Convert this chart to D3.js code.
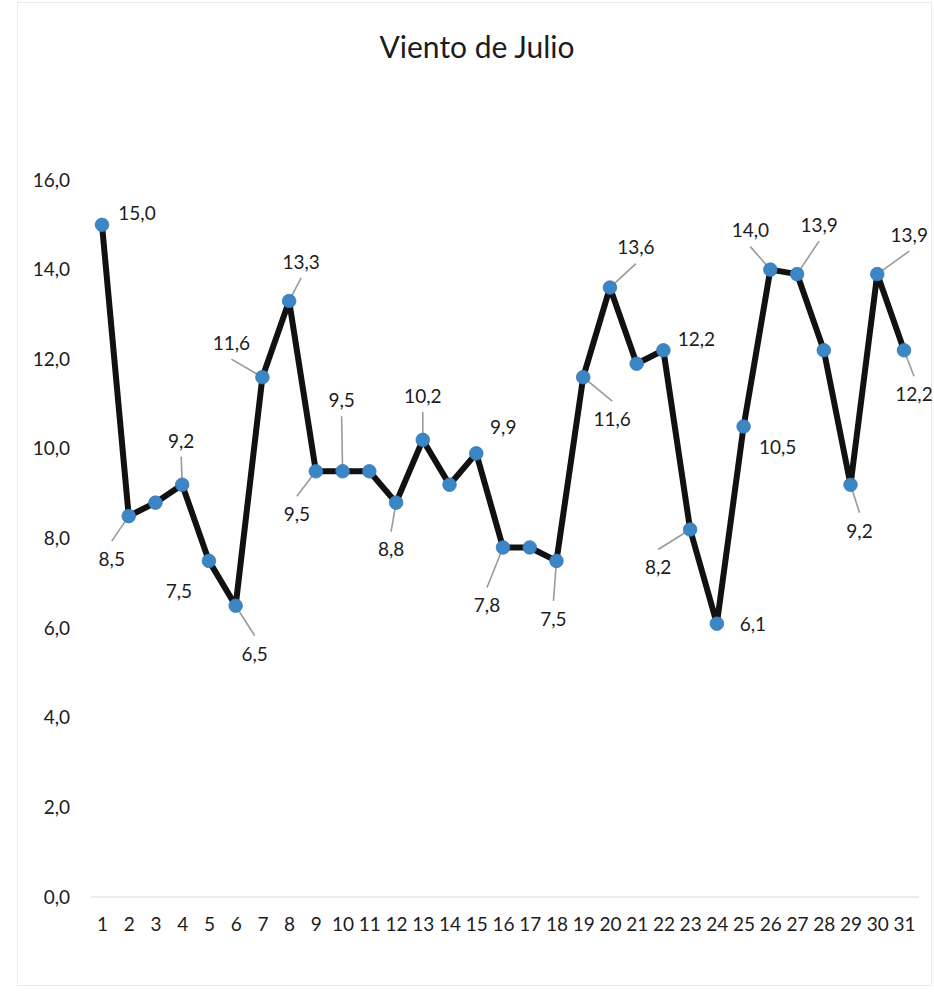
<!DOCTYPE html>
<html lang="es">
<head>
<meta charset="utf-8">
<title>Viento de Julio</title>
<script src="https://cdn.jsdelivr.net/npm/d3@7/dist/d3.min.js"></script>
<style>
  html, body { margin: 0; padding: 0; background: #ffffff; }
  svg { display: block; font-family: Lato, "Open Sans", "DejaVu Sans", sans-serif; }
</style>
</head>
<body>
<svg id="chart" width="934" height="996"></svg>
<script>
// Days of July and the wind value recorded on each day
const days = d3.range(1, 32);
const wind = [
  15.0, 8.5, 8.8, 9.2, 7.5, 6.5, 11.6, 13.3, 9.5, 9.5,
  9.5, 8.8, 10.2, 9.2, 9.9, 7.8, 7.8, 7.5, 11.6, 13.6,
  11.9, 12.2, 8.2, 6.1, 10.5, 14.0, 13.9, 12.2, 9.2, 13.9,
  12.2
];
const yTicks = [0, 2, 4, 6, 8, 10, 12, 14, 16];
const title = "Viento de Julio";

// Days whose value is printed on the chart
const labelledDays = [1, 2, 4, 5, 6, 7, 8, 9, 10, 12, 13, 15, 16, 18, 19, 20, 22, 23, 24, 25, 26, 27, 29, 30, 31];

// Hand-placed data label layout: [day, dx, dy, has leader line]
const labelLayout = [
  [1, 35, -12, false], [2, -17, 43, true], [4, -1, -44, true], [5, -30, 30, false],
  [6, 19, 48, true], [7, -31, -34, true], [8, 12, -39, true], [9, -19, 43, true],
  [10, -1, -71, true], [12, -5, 47, true], [13, 0, -44, true], [15, 27, -26, false],
  [16, -16, 58, true], [18, -3, 58, true], [19, 29, 42, true], [20, 26, -40, true],
  [22, 33, -11, false], [23, -32, 38, true], [24, 36, 1, false], [25, 34, 21, false],
  [26, -20, -39, true], [27, 22, -49, true], [29, 9, 46, true], [30, 32, -39, true],
  [31, 10, 44, true]
];

const fmt = v => d3.format(".1f")(v).replace(".", ",");
const textColor = "#1c1c1c";
const labelSize = 19;

const svg = d3.select("#chart");

// faint chart-area frame
svg.append("rect")
  .attr("x", 17.5).attr("y", 2.5)
  .attr("width", 914).attr("height", 983)
  .attr("fill", "none").attr("stroke", "#ebebeb").attr("stroke-width", 1);

const x = d3.scalePoint().domain(days).range([102, 904]);
const y = d3.scaleLinear().domain([0, 16]).range([897, 180]);

// title
svg.append("text")
  .attr("x", 477).attr("y", 58)
  .attr("text-anchor", "middle")
  .attr("font-size", 30)
  .attr("fill", textColor)
  .text(title);

// horizontal axis line at zero
svg.append("line")
  .attr("x1", 91).attr("x2", 919)
  .attr("y1", y(0)).attr("y2", y(0))
  .attr("stroke", "#d9d9d9").attr("stroke-width", 1);

// y axis labels
const yAxis = d3.axisLeft(y).tickValues(yTicks).tickFormat(fmt).tickSize(0).tickPadding(0);
const gy = svg.append("g").attr("transform", "translate(70,0)").call(yAxis);
gy.select(".domain").remove();
gy.selectAll("text")
  .attr("font-family", "Lato, 'Open Sans', sans-serif")
  .attr("font-size", labelSize)
  .attr("fill", textColor);

// x axis labels
const xAxis = d3.axisBottom(x).tickSize(0).tickPadding(0);
const gx = svg.append("g").attr("transform", "translate(0,917)").call(xAxis);
gx.select(".domain").remove();
gx.selectAll("text")
  .attr("font-family", "Lato, 'Open Sans', sans-serif")
  .attr("font-size", labelSize)
  .attr("fill", textColor);

const data = days.map((d, i) => ({ day: d, value: wind[i] }));

// leader lines and data labels
const layoutByDay = new Map(labelLayout.map(r => [r[0], r]));
const labelled = data.filter(d => labelledDays.includes(d.day));

const leaders = svg.append("g");
const labels = svg.append("g");

labelled.forEach(d => {
  const [, dx, dy, leader] = layoutByDay.get(d.day);
  const px = x(d.day), py = y(d.value);
  const lx = px + dx, ly = py + dy;
  if (leader) {
    const ey = ly + (py > ly ? 16 : -18);
    leaders.append("line")
      .attr("x1", lx).attr("y1", ey)
      .attr("x2", px).attr("y2", py)
      .attr("stroke", "#9a9a9a").attr("stroke-width", 1.6);
  }
  labels.append("text")
    .attr("x", lx).attr("y", ly)
    .attr("dy", "0.36em")
    .attr("text-anchor", "middle")
    .attr("font-size", labelSize)
    .attr("fill", textColor)
    .text(fmt(d.value));
});

// the wind line
const line = d3.line().x(d => x(d.day)).y(d => y(d.value));
svg.append("path")
  .datum(data)
  .attr("d", line)
  .attr("fill", "none")
  .attr("stroke", "#111111")
  .attr("stroke-width", 6)
  .attr("stroke-linejoin", "round");

// markers
svg.append("g").selectAll("circle")
  .data(data)
  .join("circle")
  .attr("cx", d => x(d.day))
  .attr("cy", d => y(d.value))
  .attr("r", 6.8)
  .attr("fill", "#3d86c6")
  .attr("stroke", "#3579b5")
  .attr("stroke-width", 0.8);
</script>
</body>
</html>
